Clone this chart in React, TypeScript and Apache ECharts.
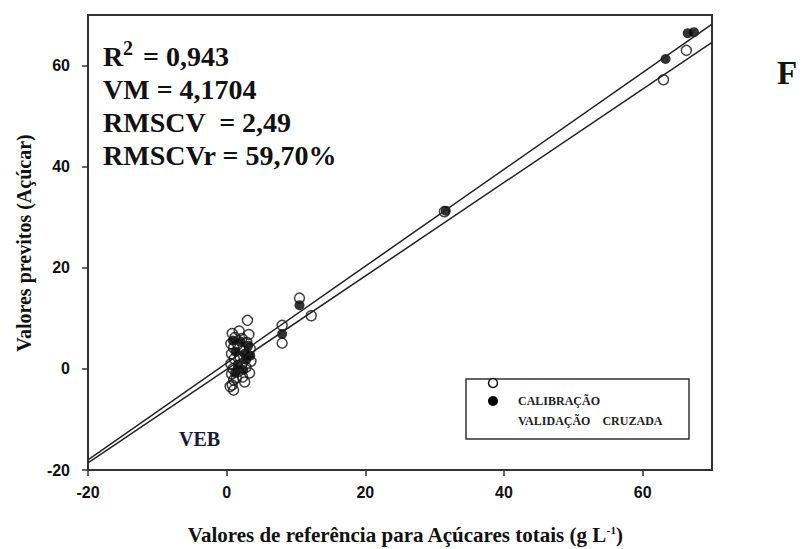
import React, { useEffect, useRef } from "react";
import * as echarts from "echarts";

// Calibration samples (open circles): [reference, predicted]
const calibracao: number[][] = [
  [0.8, 7.0], [1.2, 6.2], [0.6, 5.0], [1.0, 4.2], [0.7, 3.0], [1.1, 2.0],
  [0.6, 1.0], [0.9, 0.0], [0.7, -1.0], [1.0, -2.2], [0.8, -3.2], [1.0, -4.2],
  [0.5, -3.5], [1.4, -1.8], [1.8, 7.5], [2.2, 6.0], [1.6, 4.8], [2.4, 3.6],
  [1.9, 2.4], [2.2, 1.0], [1.7, -0.5], [2.3, -1.6], [3.0, 9.6], [3.2, 6.8],
  [2.9, 5.2], [3.4, 4.0], [3.0, 2.8], [3.5, 1.5], [2.8, 0.3], [3.3, -0.8],
  [2.6, -2.6], [8.0, 8.6], [8.0, 5.1], [10.5, 14.0], [12.2, 10.5],
  [31.4, 31.1], [63.0, 57.2], [66.3, 63.0],
];

// Cross-validation samples (filled circles)
const validacaoCruzada: number[][] = [
  [0.9, 5.6], [1.3, 3.4], [2.0, 5.4], [2.6, 3.0], [3.1, 4.6], [1.6, 0.8],
  [2.8, 1.8], [3.4, 2.6], [1.2, -0.8], [2.4, -0.2], [8.0, 6.9], [10.5, 12.6],
  [31.6, 31.3], [63.3, 61.3], [66.5, 66.4], [67.4, 66.6],
];

// Fitted lines, drawn across the whole x range
const ajusteCalibracao: number[][] = [[-20, -18.6], [70, 64.6]];
const ajusteValidacao: number[][] = [[-20, -18.0], [70, 68.2]];

const xTicks = { min: -20, max: 70, interval: 20 };
const yTicks = { min: -20, max: 70, interval: 20 };

const estatisticas = ["VM = 4,1704", "RMSCV  = 2,49", "RMSCVr = 59,70%"];

const SERIF = "'Liberation Serif', 'Times New Roman', serif";
const SANS = "'Liberation Sans', Arial, sans-serif";

export default function App() {
  const ref = useRef<HTMLDivElement>(null);

  useEffect(() => {
    if (!ref.current) return;
    const chart = echarts.init(ref.current, null, { renderer: "svg" });

    const statTexts = estatisticas.map((t, i) => ({
      type: "text",
      left: 103,
      top: 75 + i * 33,
      style: { text: t, font: `bold 28px ${SERIF}`, fill: "#111" },
    }));

    const axisLabel = {
      showMaxLabel: false,
      fontFamily: SANS,
      fontWeight: "bold",
      fontSize: 16,
      color: "#111",
    };

    chart.setOption({
      animation: false,
      backgroundColor: "#fff",
      grid: {
        left: 88,
        right: 91,
        top: 15,
        bottom: 79,
        show: true,
        borderColor: "#333",
        borderWidth: 2,
      },
      xAxis: {
        type: "value",
        min: xTicks.min,
        max: xTicks.max,
        interval: xTicks.interval,
        splitLine: { show: false },
        axisLine: { show: true, onZero: false, lineStyle: { color: "#333", width: 2 } },
        axisTick: { show: true, length: 6, lineStyle: { color: "#333", width: 1.5 } },
        axisLabel: { ...axisLabel, margin: 14 },
      },
      yAxis: {
        type: "value",
        min: yTicks.min,
        max: yTicks.max,
        interval: yTicks.interval,
        splitLine: { show: false },
        axisLine: { show: true, onZero: false, lineStyle: { color: "#333", width: 2 } },
        axisTick: { show: true, length: 6, lineStyle: { color: "#333", width: 1.5 } },
        axisLabel: { ...axisLabel, margin: 18 },
      },
      series: [
        {
          type: "line",
          data: ajusteCalibracao,
          symbol: "none",
          silent: true,
          lineStyle: { color: "#222", width: 1.5 },
        },
        {
          type: "line",
          data: ajusteValidacao,
          symbol: "none",
          silent: true,
          lineStyle: { color: "#222", width: 1.5 },
        },
        {
          name: "VALIDAÇÃO CRUZADA",
          type: "scatter",
          data: validacaoCruzada,
          symbol: "circle",
          symbolSize: 10,
          itemStyle: { color: "#000" },
        },
        {
          name: "CALIBRAÇÃO",
          type: "scatter",
          data: calibracao,
          symbol: "circle",
          symbolSize: 10,
          itemStyle: { color: "rgba(0,0,0,0)", borderColor: "#111", borderWidth: 1.5 },
        },
      ],
      graphic: [
        // R² line
        { type: "text", left: 103, top: 42, style: { text: "R", font: `bold 28px ${SERIF}`, fill: "#111" } },
        { type: "text", left: 123, top: 38, style: { text: "2", font: `bold 20px ${SERIF}`, fill: "#111" } },
        { type: "text", left: 136, top: 42, style: { text: " = 0,943", font: `bold 28px ${SERIF}`, fill: "#111" } },
        ...statTexts,
        // panel letter
        { type: "text", left: 777, top: 56, style: { text: "F", font: `bold 33px ${SERIF}`, fill: "#111" } },
        // sample label
        { type: "text", left: 179, top: 429, style: { text: "VEB", font: `bold 20px ${SERIF}`, fill: "#1a1a3a" } },
        // legend box
        {
          type: "rect",
          shape: { x: 466, y: 379, width: 223, height: 60 },
          style: { fill: "#fff", stroke: "#333", lineWidth: 1.5 },
        },
        {
          type: "circle",
          shape: { cx: 493, cy: 383, r: 4.5 },
          style: { fill: "#fff", stroke: "#111", lineWidth: 1.5 },
        },
        {
          type: "circle",
          shape: { cx: 493, cy: 401, r: 5 },
          style: { fill: "#000" },
        },
        { type: "text", left: 518, top: 395, style: { text: "CALIBRAÇÃO", font: `bold 12px ${SERIF}`, fill: "#222" } },
        { type: "text", left: 518, top: 415, style: { text: "VALIDAÇÃO    CRUZADA", font: `bold 12px ${SERIF}`, fill: "#222" } },
        // axis titles
        {
          type: "text",
          x: 24,
          y: 243,
          rotation: Math.PI / 2,
          style: {
            text: "Valores previtos (Açúcar)",
            font: `bold 20px ${SERIF}`,
            fill: "#111",
            align: "center",
            verticalAlign: "middle",
          },
        },
        {
          type: "text",
          x: 405,
          y: 535,
          style: {
            text: "{t|Valores de referência para Açúcares totais (g L}{s|-1}{t|)}",
            align: "center",
            verticalAlign: "middle",
            rich: {
              t: { font: `bold 21px ${SERIF}`, fill: "#111", verticalAlign: "bottom" },
              s: { font: `bold 11px ${SERIF}`, fill: "#111", verticalAlign: "top", padding: [0, 0, 9, 0] },
            },
          },
        },
      ],
    });

    return () => chart.dispose();
  }, []);

  return (
    <div
      ref={ref}
      style={{ position: "absolute", left: 0, top: 0, width: 803, height: 549 }}
    />
  );
}
